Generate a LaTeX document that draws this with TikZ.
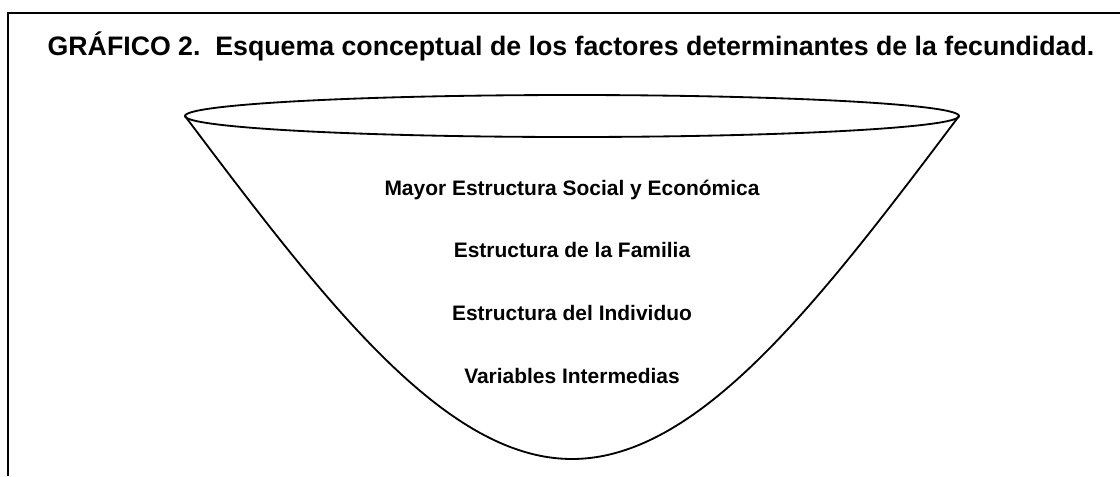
\documentclass[tikz,border=0pt]{standalone}
\usepackage{tikz}
\usepackage{fontspec}
\setmainfont{Liberation Sans}
\usetikzlibrary{calc}

\tikzset{
  funnel/.style={line width=1.3pt, draw=black},
  nivel/.style={font=\fontsize{14.9}{16}\selectfont\bfseries, anchor=base},
  titulo/.style={font=\fontsize{19}{22}\selectfont\bfseries, anchor=base}
}

\begin{document}
\begin{tikzpicture}[x=0.025cm, y=-0.025cm]
% frame of the page
\useasboundingbox (0,0) rectangle (1120,476);
      \draw [line width=1.6pt, draw=black]
	  (8,476) --
      (8,13) --
      (1120,13);

% title
\node[titulo] (titulo) at (571,55) {GRÁFICO 2.\ \ Esquema conceptual de los factores determinantes de la fecundidad.};

% funnel: rim and body
\draw [funnel] (572,116) ellipse [x radius=387, y radius=21];
\coordinate (izq) at (185,116);
\coordinate (der) at (959,116);
\coordinate (fondo) at (572,459);
\draw [funnel] (izq) .. controls (325,302) and (445,459) .. (fondo)
      .. controls (699,459) and (819,302) .. (der);

% levels
\node[nivel] (social) at (572,195) {Mayor Estructura Social y Económica};
\node[nivel] (familia) at (572,257) {Estructura de la Familia};
\node[nivel] (individuo) at (572,320) {Estructura del Individuo};
\node[nivel] (variables) at (572,383) {Variables Intermedias};
\end{tikzpicture}
\end{document}
